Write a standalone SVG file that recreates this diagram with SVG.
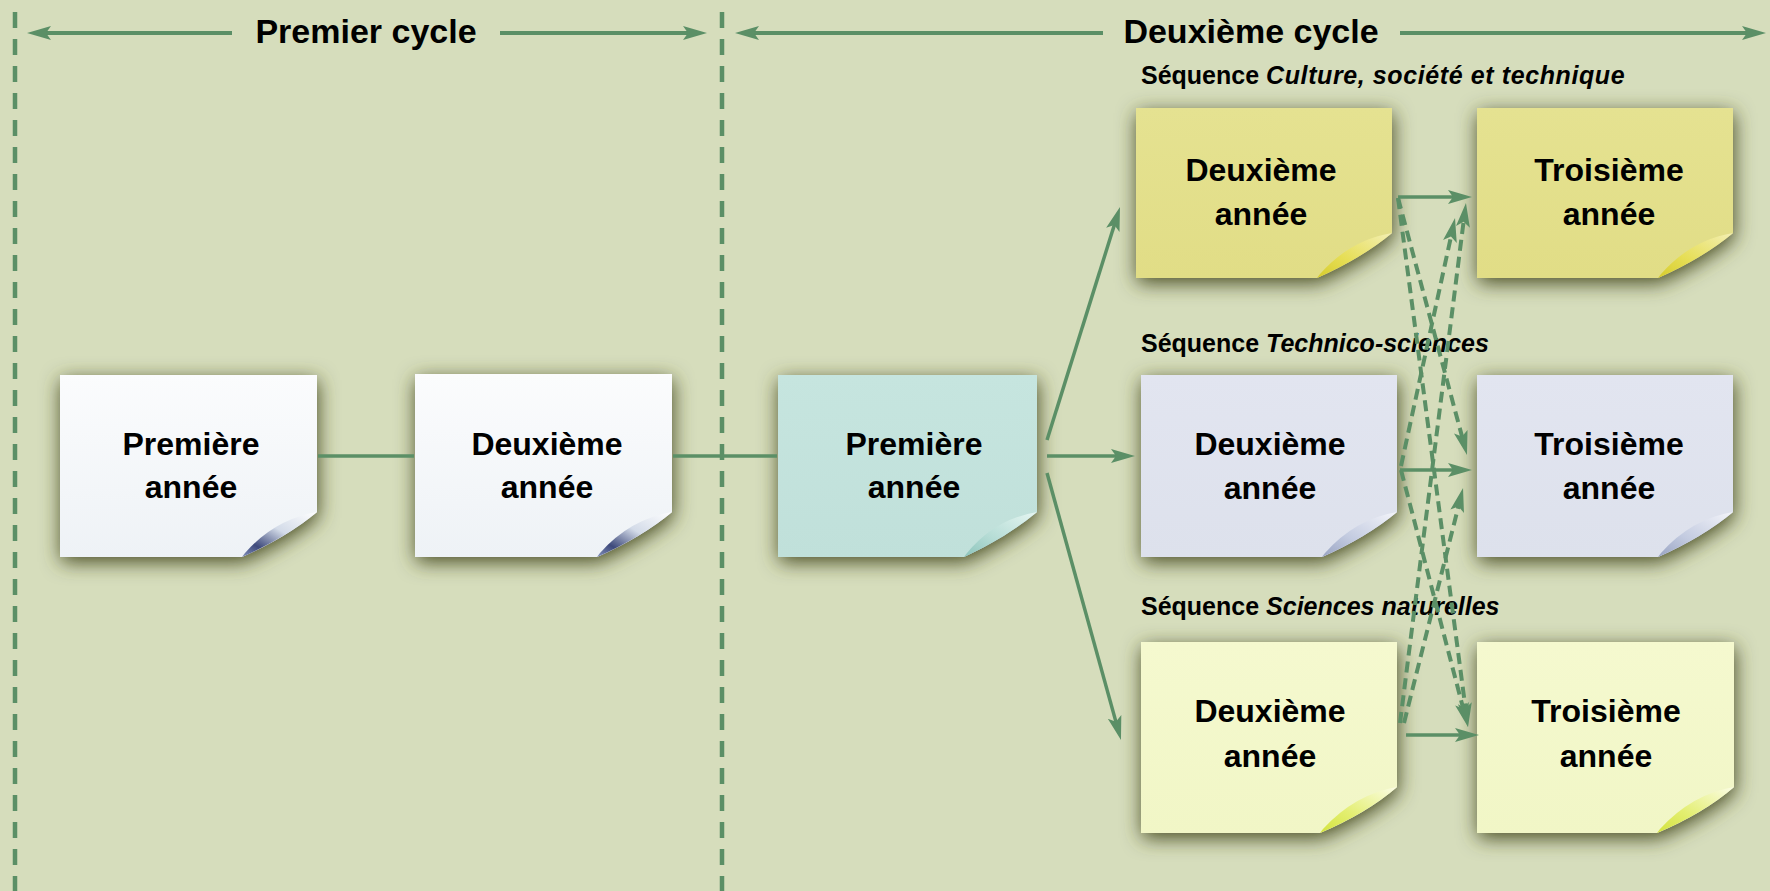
<svg xmlns="http://www.w3.org/2000/svg" width="1770" height="891" viewBox="0 0 1770 891">
  <defs>
    <style>
      .t{font-family:"Liberation Sans",Arial,sans-serif;font-weight:700;fill:#000}
      .title{font-size:34px;text-anchor:middle}
      .box{font-size:32px;text-anchor:middle}
      .seq{font-size:25px}
      .it{font-style:italic}
      .wide{letter-spacing:0.6px}
      .line{stroke:#5b8f66;stroke-width:3.5;fill:none}
      .arrow{stroke:#5b8f66;stroke-width:3.5;fill:none;marker-end:url(#ah)}
      .dash{stroke:#5b8f66;stroke-width:4;fill:none;stroke-dasharray:11 6;marker-end:url(#ah)}
      .cyc{stroke:#5b8f66;stroke-width:4;fill:none}
      .divider{stroke:#5b8f66;stroke-width:4.5;stroke-dasharray:16 11}
      .note{filter:url(#shadow)}
    </style>
    <marker id="ah" markerUnits="userSpaceOnUse" viewBox="0 0 24 16" markerWidth="24" markerHeight="16" refX="14" refY="8" orient="auto-start-reverse">
      <path d="M0,1 L24,8 L0,15 L5,8 Z" fill="#5b8f66"/>
    </marker>
    <filter id="shadow" x="-25%" y="-25%" width="150%" height="160%">
      <feDropShadow dx="1" dy="5" stdDeviation="10" flood-color="#474b23" flood-opacity="1"/>
    </filter>
    <!-- paper colours -->
    <linearGradient id="gWhite" x1="0" y1="0" x2="0" y2="1">
      <stop offset="0" stop-color="#fbfcfd"/><stop offset="1" stop-color="#eef2f6"/>
    </linearGradient>
    <linearGradient id="gTeal" x1="0" y1="0" x2="0" y2="1">
      <stop offset="0" stop-color="#c6e5df"/><stop offset="1" stop-color="#c0e0da"/>
    </linearGradient>
    <linearGradient id="gYellow" x1="0" y1="0" x2="0" y2="1">
      <stop offset="0" stop-color="#e5e291"/><stop offset="1" stop-color="#e1dd86"/>
    </linearGradient>
    <linearGradient id="gLav" x1="0" y1="0" x2="0" y2="1">
      <stop offset="0" stop-color="#e2e5f0"/><stop offset="1" stop-color="#dde1ec"/>
    </linearGradient>
    <linearGradient id="gPale" x1="0" y1="0" x2="0" y2="1">
      <stop offset="0" stop-color="#f5f9cf"/><stop offset="1" stop-color="#f1f6c6"/>
    </linearGradient>
    <!-- page curl colours -->
    <linearGradient id="cWhite" x1="1" y1="0" x2="0" y2="1">
      <stop offset="0" stop-color="#ffffff"/><stop offset="0.45" stop-color="#d3dbe8"/><stop offset="0.78" stop-color="#3e4a7c"/><stop offset="1" stop-color="#8391bb"/>
    </linearGradient>
    <linearGradient id="cTeal" x1="1" y1="0" x2="0" y2="1">
      <stop offset="0" stop-color="#e6f6f2"/><stop offset="0.6" stop-color="#b5dcd5"/><stop offset="1" stop-color="#8cc4bb"/>
    </linearGradient>
    <linearGradient id="cYellow" x1="1" y1="0" x2="0" y2="1">
      <stop offset="0" stop-color="#f3efb4"/><stop offset="0.6" stop-color="#e6de55"/><stop offset="1" stop-color="#d6cc2c"/>
    </linearGradient>
    <linearGradient id="cLav" x1="1" y1="0" x2="0" y2="1">
      <stop offset="0" stop-color="#f4f5fa"/><stop offset="0.6" stop-color="#c3cbe0"/><stop offset="1" stop-color="#98a3c2"/>
    </linearGradient>
    <linearGradient id="cPale" x1="1" y1="0" x2="0" y2="1">
      <stop offset="0" stop-color="#fbfde6"/><stop offset="0.6" stop-color="#e3ee70"/><stop offset="1" stop-color="#d3e33e"/>
    </linearGradient>
  </defs>

  <rect width="1770" height="891" fill="#d6ddbc"/>

  <!-- cycle dividers -->
  <g id="dividers">
    <line class="divider" x1="15" y1="12" x2="15" y2="891"/>
    <line class="divider" x1="722" y1="12" x2="722" y2="891"/>
  </g>

  <!-- cycle headers -->
  <g id="cycle-1">
    <path class="cyc" d="M37,33 H232" marker-start="url(#ah)"/>
    <path class="cyc" d="M500,33 H697" marker-end="url(#ah)"/>
    <text class="t title" x="366" y="43">Premier cycle</text>
  </g>
  <g id="cycle-2">
    <path class="cyc" d="M745,33 H1103" marker-start="url(#ah)"/>
    <path class="cyc" d="M1400,33 H1756" marker-end="url(#ah)"/>
    <text class="t title" x="1251" y="43">Deuxième cycle</text>
  </g>

  <!-- sequence labels -->
  <g id="labels">
    <text class="t seq" x="1141" y="84">Séquence <tspan class="it wide">Culture, société et technique</tspan></text>
    <text class="t seq" x="1141" y="352">Séquence <tspan class="it">Technico-sciences</tspan></text>
    <text class="t seq" x="1141" y="615">Séquence <tspan class="it">Sciences naturelles</tspan></text>
  </g>

  <!-- Premier cycle, première année -->
  <g id="c1-annee1">
    <path class="note" fill="url(#gWhite)" d="M60,375 H317 V512 Q287,537 242,557 H60 Z"/>
    <path fill="url(#cWhite)" d="M317,512 Q275,519 245,553 L242,557 Q287,537 317,512 Z"/>
    <text class="t box" x="191" y="455">Première</text>
    <text class="t box" x="191" y="498">année</text>
  </g>

  <!-- Premier cycle, deuxième année -->
  <g id="c1-annee2">
    <path class="note" fill="url(#gWhite)" d="M415,374 H672 V512 Q642,537 597,557 H415 Z"/>
    <path fill="url(#cWhite)" d="M672,512 Q630,519 600,553 L597,557 Q642,537 672,512 Z"/>
    <text class="t box" x="547" y="455">Deuxième</text>
    <text class="t box" x="547" y="498">année</text>
  </g>

  <!-- Deuxième cycle, première année -->
  <g id="c2-annee1">
    <path class="note" fill="url(#gTeal)" d="M778,375 H1037 V512 Q1007,537 964,557 H778 Z"/>
    <path fill="url(#cTeal)" d="M1037,512 Q995,519 967,553 L964,557 Q1007,537 1037,512 Z"/>
    <text class="t box" x="914" y="455">Première</text>
    <text class="t box" x="914" y="498">année</text>
  </g>

  <!-- Séquence Culture, société et technique -->
  <g id="cst-annee2">
    <path class="note" fill="url(#gYellow)" d="M1136,108 H1392 V233 Q1362,258 1317,278 H1136 Z"/>
    <path fill="url(#cYellow)" d="M1392,233 Q1350,240 1320,274 L1317,278 Q1362,258 1392,233 Z"/>
    <text class="t box" x="1261" y="181">Deuxième</text>
    <text class="t box" x="1261" y="225">année</text>
  </g>
  <g id="cst-annee3">
    <path class="note" fill="url(#gYellow)" d="M1477,108 H1733 V233 Q1703,258 1658,278 H1477 Z"/>
    <path fill="url(#cYellow)" d="M1733,233 Q1691,240 1661,274 L1658,278 Q1703,258 1733,233 Z"/>
    <text class="t box" x="1609" y="181">Troisième</text>
    <text class="t box" x="1609" y="225">année</text>
  </g>

  <!-- Séquence Technico-sciences -->
  <g id="ts-annee2">
    <path class="note" fill="url(#gLav)" d="M1141,375 H1397 V512 Q1367,537 1322,557 H1141 Z"/>
    <path fill="url(#cLav)" d="M1397,512 Q1355,519 1325,553 L1322,557 Q1367,537 1397,512 Z"/>
    <text class="t box" x="1270" y="455">Deuxième</text>
    <text class="t box" x="1270" y="499">année</text>
  </g>
  <g id="ts-annee3">
    <path class="note" fill="url(#gLav)" d="M1477,375 H1733 V512 Q1703,537 1658,557 H1477 Z"/>
    <path fill="url(#cLav)" d="M1733,512 Q1691,519 1661,553 L1658,557 Q1703,537 1733,512 Z"/>
    <text class="t box" x="1609" y="455">Troisième</text>
    <text class="t box" x="1609" y="499">année</text>
  </g>

  <!-- Séquence Sciences naturelles -->
  <g id="sn-annee2">
    <path class="note" fill="url(#gPale)" d="M1141,642 H1397 V787 Q1367,813 1320,833 H1141 Z"/>
    <path fill="url(#cPale)" d="M1397,787 Q1355,794 1323,829 L1320,833 Q1367,813 1397,787 Z"/>
    <text class="t box" x="1270" y="722">Deuxième</text>
    <text class="t box" x="1270" y="767">année</text>
  </g>
  <g id="sn-annee3">
    <path class="note" fill="url(#gPale)" d="M1477,642 H1734 V787 Q1704,813 1657,833 H1477 Z"/>
    <path fill="url(#cPale)" d="M1734,787 Q1692,794 1660,829 L1657,833 Q1704,813 1734,787 Z"/>
    <text class="t box" x="1606" y="722">Troisième</text>
    <text class="t box" x="1606" y="767">année</text>
  </g>

  <!-- connectors -->
  <g id="connectors">
    <path class="line" d="M318,456 H414"/>
    <path class="line" d="M673,456 H777"/>
    <path class="arrow" d="M1047,456 H1125"/>
    <path class="arrow" d="M1047,440 L1117,216.5"/>
    <path class="arrow" d="M1047,473 L1118.3,730.4"/>

    <path class="arrow" d="M1398,197 H1462"/>
    <path class="arrow" d="M1400,470 H1462"/>
    <path class="arrow" d="M1406,735 H1469"/>

    <path class="dash" d="M1398,198 L1464.4,445.3"/>
    <path class="dash" d="M1398,198 L1466.7,717.1"/>
    <path class="dash" d="M1401,466 L1452.9,227.8"/>
    <path class="dash" d="M1401,470 L1465.5,717.3"/>
    <path class="dash" d="M1400,723 L1464.7,212.9"/>
    <path class="dash" d="M1404,723 L1460.6,497.7"/>
  </g>
</svg>
